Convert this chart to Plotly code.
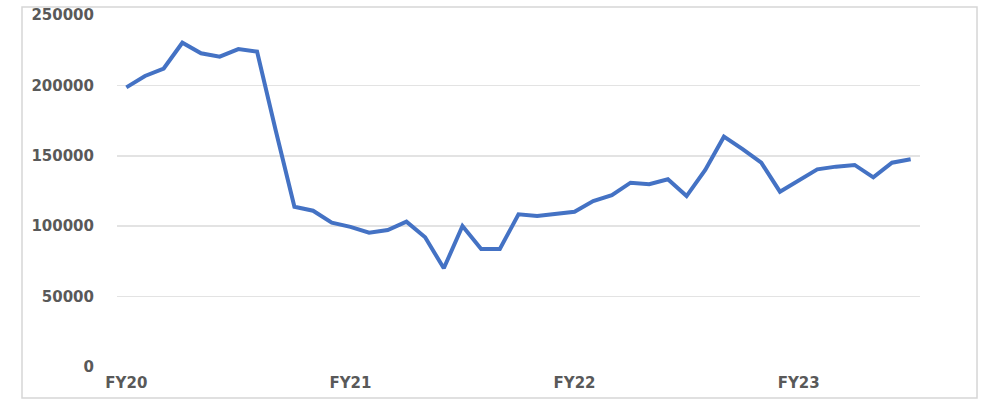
import plotly.graph_objects as go

# Monthly values, 43 periods starting FY20
period_index = list(range(43))
values = [
    198600, 206700, 212000, 230300, 222800, 220400, 225800, 224000, 168000,
    113800, 111000, 102500, 99500, 95400, 97300, 103200, 92100, 70100,
    100100, 83800, 83800, 108400, 107300, 109100, 110300, 117900, 122100,
    130900, 129800, 133300, 121400, 139900, 163600, 154800, 145100, 124500,
    132800, 140400, 142300, 143500, 134700, 145100, 147500,
]
tick_positions = [0, 12, 24, 36]
tick_labels = ["FY20", "FY21", "FY22", "FY23"]
y_ticks = [0, 50000, 100000, 150000, 200000, 250000]

fig = go.Figure()
fig.add_trace(go.Scatter(
    x=period_index, y=values, mode="lines",
    line=dict(color="#4472C4", width=4),
    hoverinfo="skip",
))

font = dict(family="DejaVu Sans", size=15, color="#595959", weight="bold")

fig.update_layout(
    template="none",
    width=990, height=401,
    margin=dict(l=117, r=70, t=15, b=34, pad=0),
    paper_bgcolor="white", plot_bgcolor="white",
    showlegend=False,
    xaxis=dict(
        range=[-0.5, 42.5], automargin=False,
        tickmode="array", tickvals=tick_positions, ticktext=tick_labels,
        showgrid=False, zeroline=False, showline=False,
        ticks="", tickfont=font, ticklabelstandoff=5,
    ),
    yaxis=dict(
        range=[0, 250000], automargin=False,
        tickmode="array", tickvals=y_ticks,
        ticktext=[str(v) for v in y_ticks],
        showgrid=True, gridcolor="#e3e3e3", gridwidth=1.5,
        zeroline=False, showline=False,
        ticks="", tickfont=font, ticklabelstandoff=22,
    ),
    shapes=[dict(
        type="rect", xref="paper", yref="paper",
        x0=-0.1183, x1=1.071, y0=-0.088, y1=1.0227,
        line=dict(color="#d6d6d6", width=1.5), fillcolor="rgba(0,0,0,0)",
        layer="below",
    )],
)

fig.write_html(
    "out.html",
    config={"displayModeBar": False, "staticPlot": True},
    post_script="document.body.style.margin='0';document.body.style.overflow='hidden';",
)
